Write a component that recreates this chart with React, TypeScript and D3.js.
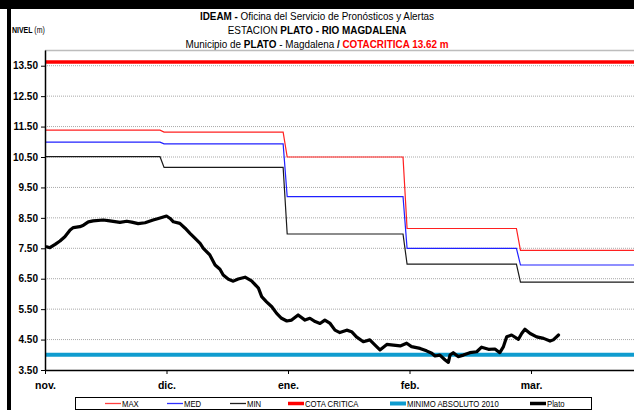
import React, { useEffect, useRef } from 'react';
import * as d3 from 'd3';

// x axis: day index counted from 1 nov, ticks every 30 days
const monthLabels = ['nov.', 'dic.', 'ene.', 'feb.', 'mar.'];
const monthTickDays = [0, 30, 60, 90, 120];
const yTicks = [3.5, 4.5, 5.5, 6.5, 7.5, 8.5, 9.5, 10.5, 11.5, 12.5, 13.5];

// monthly reference levels (m) and the day each level ends
const levelEnds = [28.4, 58.8, 88.4, 116.4];
const maxLevels = [11.38, 11.32, 10.5, 8.15, 7.43];
const medLevels = [10.99, 10.93, 9.2, 7.5, 6.95];
const minLevels = [10.51, 10.16, 7.97, 6.98, 6.39];

const cotaCritica = 13.62;
const minimoAbsoluto = 4.0;

// Plato gauge readings (day, nivel)
const platoDays = [
  0.4, 1.2, 2.5, 3.7, 4.9, 6.2, 7, 8.6, 9.5, 10.7, 11.9, 14.4, 16, 18.5, 20.2, 21.4, 23, 24.7, 26.7, 28,
  30, 30.9, 31.7, 33.3, 34.6, 35.8, 37, 38.3, 39.1, 40.7, 42, 43.2, 44, 45.3, 46.5, 47.7, 49.4, 51,
  52.7, 53.5, 54.7, 56, 57.2, 58.4, 59.7, 60.9, 62.5, 64.2, 65.4, 66.7, 67.9, 69.1, 70.4, 71.6, 72.8,
  74.5, 75.7, 76.9, 78.6, 80.2, 81.5, 82.7, 84.4, 86, 87.7, 89.3, 90.5, 92.6, 94.2, 95.5, 96.3, 97.5,
  98.8, 99.6, 100, 100.8, 102, 103.3, 104.9, 106.6, 107.8, 109.5, 111.1, 112.3, 113.2, 114, 115.2,
  116.9, 117.7, 118.5, 119.8, 121.4, 123.1, 124.7, 125.5, 126.8,
];
const platoNivel = [
  7.55, 7.52, 7.63, 7.74, 7.88, 8.1, 8.18, 8.21, 8.26, 8.37, 8.4, 8.43, 8.4, 8.35, 8.39, 8.36, 8.31, 8.34, 8.43, 8.48,
  8.56, 8.48, 8.37, 8.32, 8.16, 7.99, 7.83, 7.66, 7.5, 7.28, 6.95, 6.81, 6.62, 6.48, 6.42, 6.49, 6.55, 6.43,
  6.19, 5.91, 5.74, 5.58, 5.36, 5.2, 5.11, 5.14, 5.31, 5.14, 5.2, 5.09, 5.03, 5.14, 5.03, 4.81, 4.73,
  4.81, 4.76, 4.59, 4.43, 4.49, 4.32, 4.16, 4.34, 4.32, 4.29, 4.38, 4.27, 4.21, 4.13, 4.05, 3.96, 3.99,
  3.83, 3.75, 3.99, 4.07, 3.94, 3.99, 4.07, 4.1, 4.25, 4.18, 4.19, 4.07, 4.27, 4.59, 4.65,
  4.51, 4.7, 4.84, 4.7, 4.59, 4.54, 4.45, 4.49, 4.65,
];

const legendItems = [
  { label: 'MAX', color: '#ff4040', width: 1.3, x: 105 },
  { label: 'MED', color: '#3030ff', width: 1.3, x: 167 },
  { label: 'MIN', color: '#202020', width: 1.3, x: 230 },
  { label: 'COTA CRITICA', color: '#ff0000', width: 3.5, x: 288 },
  { label: 'MINIMO ABSOLUTO 2010', color: '#0f9ccf', width: 4, x: 390 },
  { label: 'Plato', color: '#000000', width: 3.5, x: 530 },
];

const SANS = '"Liberation Sans", Arial, sans-serif';

const App = () => {
  const svgRef = useRef<SVGSVGElement>(null);

  useEffect(() => {
    document.body.style.margin = '0';
    const width = 634;
    const height = 410;
    const margin = { top: 50.5, left: 45, bottom: 40 };

    const svg = d3.select(svgRef.current);
    svg.selectAll('*').remove();
    svg.attr('width', width).attr('height', height);

    svg.append('rect').attr('width', width).attr('height', height).attr('fill', 'white');

    const x = d3.scaleLinear().domain([0, 150]).range([margin.left, margin.left + 607.5]);
    const y = d3.scaleLinear().domain([3.5, 14]).range([height - margin.bottom, margin.top]);

    // outer frame
    svg.append('rect').attr('x', 0).attr('y', 0).attr('width', width).attr('height', 9).attr('fill', 'black');
    svg.append('rect').attr('x', 7).attr('y', 0).attr('width', 4).attr('height', height).attr('fill', 'black');

    // condensed text: no narrow font installed, so squeeze horizontally
    const narrowText = (px: number, py: number, size: number, squeeze: number, anchor = 'start') =>
      svg.append('text')
        .attr('transform', `translate(${px},${py}) scale(${squeeze},1)`)
        .attr('text-anchor', anchor)
        .attr('font-family', SANS)
        .attr('font-size', size)
        .attr('fill', 'black');

    // titles
    const t1 = narrowText(317, 20, 11, 0.9, 'middle');
    t1.append('tspan').attr('font-weight', 'bold').text('IDEAM - ');
    t1.append('tspan').text('Oficina del Servicio de Pronósticos y Alertas');

    const t2 = narrowText(317, 34, 11, 0.9, 'middle');
    t2.append('tspan').text('ESTACION ');
    t2.append('tspan').attr('font-weight', 'bold').text('PLATO - RIO MAGDALENA');

    const t3 = narrowText(317, 48, 11, 0.9, 'middle');
    t3.append('tspan').text('Municipio de ');
    t3.append('tspan').attr('font-weight', 'bold').text('PLATO');
    t3.append('tspan').text(' - Magdalena ');
    t3.append('tspan').attr('font-weight', 'bold').text(' /  ');
    t3.append('tspan').attr('font-weight', 'bold').attr('fill', '#ff0000').text('COTACRITICA 13.62 m');

    const yl = narrowText(12, 33, 8.5, 0.82);
    yl.append('tspan').attr('font-weight', 'bold').text('NIVEL ');
    yl.append('tspan').text('(m)');

    // plot top border
    svg.append('line')
      .attr('x1', margin.left).attr('x2', width).attr('y1', y(14)).attr('y2', y(14))
      .attr('stroke', '#bdbdbd').attr('stroke-width', 1.5);

    // gridlines
    svg.append('g')
      .selectAll('line')
      .data(yTicks.slice(1))
      .join('line')
      .attr('x1', margin.left).attr('x2', width)
      .attr('y1', d => y(d)).attr('y2', d => y(d))
      .attr('stroke', '#a8a8a8').attr('stroke-width', 1).attr('stroke-dasharray', '1,1');

    // step lines for reference levels
    const stepPoints = (levels: number[]) => {
      const pts: [number, number][] = [];
      levels.forEach((v, i) => {
        const start = i === 0 ? 0 : levelEnds[i - 1] + 1;
        const end = i < levelEnds.length ? levelEnds[i] : 150;
        pts.push([start, v], [end, v]);
      });
      return pts;
    };
    const line = d3.line<[number, number]>().x(d => x(d[0])).y(d => y(d[1]));

    [
      { levels: maxLevels, color: '#ff2020' },
      { levels: medLevels, color: '#2020ff' },
      { levels: minLevels, color: '#1a1a1a' },
    ].forEach(s => {
      svg.append('path')
        .datum(stepPoints(s.levels))
        .attr('fill', 'none')
        .attr('stroke', s.color)
        .attr('stroke-width', 1.2)
        .attr('d', line);
    });

    // cota critica and minimo absoluto
    svg.append('line')
      .attr('x1', margin.left).attr('x2', width).attr('y1', y(cotaCritica)).attr('y2', y(cotaCritica))
      .attr('stroke', '#ff0000').attr('stroke-width', 3.5);
    svg.append('line')
      .attr('x1', margin.left).attr('x2', width).attr('y1', y(minimoAbsoluto)).attr('y2', y(minimoAbsoluto))
      .attr('stroke', '#0f9ccf').attr('stroke-width', 4);

    // Plato series
    const platoData: [number, number][] = platoDays.map((d, i) => [d, platoNivel[i]]);
    svg.append('path')
      .datum(platoData)
      .attr('fill', 'none')
      .attr('stroke', 'black')
      .attr('stroke-width', 3.2)
      .attr('stroke-linejoin', 'round')
      .attr('stroke-linecap', 'round')
      .attr('d', line);

    // y axis
    const yAxis = svg.append('g')
      .attr('transform', `translate(${margin.left},0)`)
      .call(d3.axisLeft(y).tickValues(yTicks).tickFormat(d3.format('.2f')).tickSize(4).tickPadding(3));
    yAxis.select('.domain').attr('d', `M0.5,${y(14)}V${y(3.5)}`).attr('stroke', 'black').attr('stroke-width', 1.5);
    yAxis.selectAll('.tick line').attr('stroke', 'black');
    yAxis.selectAll('text').attr('font-family', SANS).attr('font-size', 10).attr('font-weight', 'bold').attr('fill', 'black');

    // x axis
    const xAxis = svg.append('g')
      .attr('transform', `translate(0,${y(3.5)})`)
      .call(d3.axisBottom(x).tickValues(monthTickDays).tickFormat((d, i) => monthLabels[i]).tickSize(4).tickPadding(8));
    xAxis.select('.domain').attr('d', `M${margin.left},0.5H${width}`).attr('stroke', 'black').attr('stroke-width', 1.5);
    xAxis.selectAll('.tick line').attr('stroke', 'black');
    xAxis.selectAll('text').attr('font-family', SANS).attr('font-size', 10.5).attr('font-weight', 'bold').attr('fill', 'black');

    // legend
    svg.append('rect')
      .attr('x', 75.5).attr('y', 397.5).attr('width', 516).attr('height', 12)
      .attr('fill', 'white').attr('stroke', 'black').attr('stroke-width', 1);
    legendItems.forEach(item => {
      svg.append('line')
        .attr('x1', item.x).attr('x2', item.x + 16).attr('y1', 403.5).attr('y2', 403.5)
        .attr('stroke', item.color).attr('stroke-width', item.width);
      narrowText(item.x + 17, 406.5, 9, 0.86).text(item.label);
    });
  }, []);

  return <svg ref={svgRef} style={{ display: 'block' }} />;
};

export default App;
